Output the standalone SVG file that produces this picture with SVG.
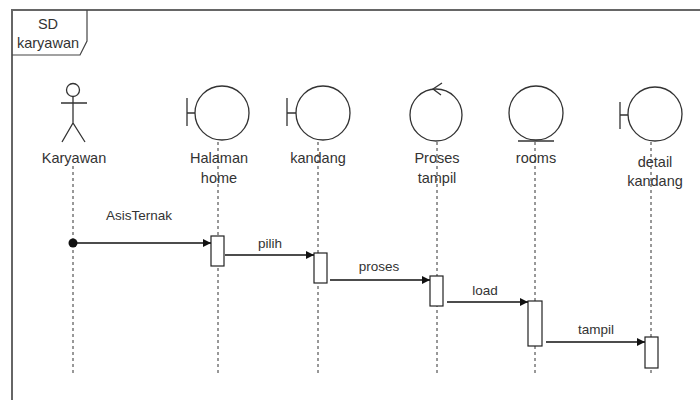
<svg xmlns="http://www.w3.org/2000/svg" width="700" height="400" viewBox="0 0 700 400">
<defs>
<marker id="arr" viewBox="0 0 10 10" refX="10" refY="5" markerWidth="8" markerHeight="8" markerUnits="userSpaceOnUse" orient="auto"><path d="M0,0 L10,5 L0,10 z" fill="#111"/></marker>
<style>
.t{font-family:"Liberation Sans",Arial,sans-serif;font-size:14.5px;fill:#333;text-anchor:middle}
.m{font-family:"Liberation Sans",Arial,sans-serif;font-size:13.5px;fill:#333;text-anchor:middle}
.s{fill:none;stroke:#333;stroke-width:1.3}
.life{stroke:#333;stroke-width:1;stroke-dasharray:3,3;fill:none}
.act{fill:#fff;stroke:#222;stroke-width:1.2}
.msg{stroke:#111;stroke-width:1.3;fill:none;marker-end:url(#arr)}
</style>
</defs>
<rect width="700" height="400" fill="#fff"/>
<g id="frame">
<path d="M12,401 L12,10 L702,10" fill="none" stroke="#666" stroke-width="2"/>
<path d="M12,55 L80,55 L87,41 L87,10" fill="none" stroke="#444" stroke-width="1.2"/>
<text class="t" x="48" y="29">SD</text>
<text class="t" x="48" y="48">karyawan</text>
</g>
<g id="lifelines">
<line class="life" x1="73" y1="166" x2="73" y2="376"/>
<line class="life" x1="218" y1="142" x2="218" y2="376"/>
<line class="life" x1="318" y1="142" x2="318" y2="376"/>
<line class="life" x1="437" y1="142" x2="437" y2="376"/>
<line class="life" x1="535" y1="142" x2="535" y2="376"/>
<line class="life" x1="651" y1="142" x2="651" y2="376"/>
</g>
<g id="karyawan">
<circle class="s" cx="73" cy="90" r="6.5"/>
<path class="s" d="M73,96.5 V123 M61,103 H87 M62,142 L73,123 L85,142"/>
<text class="t" x="74" y="163">Karyawan</text>
</g>
<g id="halaman-home">
<circle class="s" cx="222" cy="113" r="27"/>
<path class="s" d="M187,98 V126 M187,113 H195"/>
<text class="t" x="219" y="163">Halaman</text>
<text class="t" x="219" y="183">home</text>
</g>
<g id="kandang">
<circle class="s" cx="323" cy="113" r="27"/>
<path class="s" d="M287,98 V126 M287,113 H296"/>
<text class="t" x="318" y="163">kandang</text>
</g>
<g id="proses-tampil">
<circle class="s" cx="436" cy="115" r="26"/>
<path class="s" d="M442,83 L433,89 L441,95"/>
<text class="t" x="437" y="163">Proses</text>
<text class="t" x="437" y="183">tampil</text>
</g>
<g id="rooms">
<circle class="s" cx="536" cy="113" r="27"/>
<path class="s" d="M518,141 H554"/>
<text class="t" x="536" y="163">rooms</text>
</g>
<g id="detail-kandang">
<circle class="s" cx="655" cy="114" r="27"/>
<path class="s" d="M620,102 V129 M620,115 H628"/>
<text class="t" x="655" y="167">detail</text>
<text class="t" x="655" y="186">kandang</text>
</g>
<g id="activations">
<rect class="act" x="211" y="236" width="13" height="30"/>
<rect class="act" x="314" y="253" width="13" height="30"/>
<rect class="act" x="430" y="276" width="13" height="30"/>
<rect class="act" x="528" y="301" width="14" height="45"/>
<rect class="act" x="645" y="337" width="13" height="31"/>
</g>
<g id="connectors">
<circle cx="73" cy="243" r="4.5" fill="#111"/>
<line class="msg" x1="73" y1="243" x2="211" y2="243"/>
<text class="m" x="139" y="220">AsisTernak</text>
<line class="msg" x1="225" y1="255" x2="314" y2="255"/>
<text class="m" x="270" y="248">pilih</text>
<line class="msg" x1="330" y1="280" x2="430" y2="280"/>
<text class="m" x="379" y="271">proses</text>
<line class="msg" x1="447" y1="302" x2="528" y2="302"/>
<text class="m" x="485" y="295">load</text>
<line class="msg" x1="546" y1="342" x2="645" y2="342"/>
<text class="m" x="596" y="334">tampil</text>
</g>
</svg>
